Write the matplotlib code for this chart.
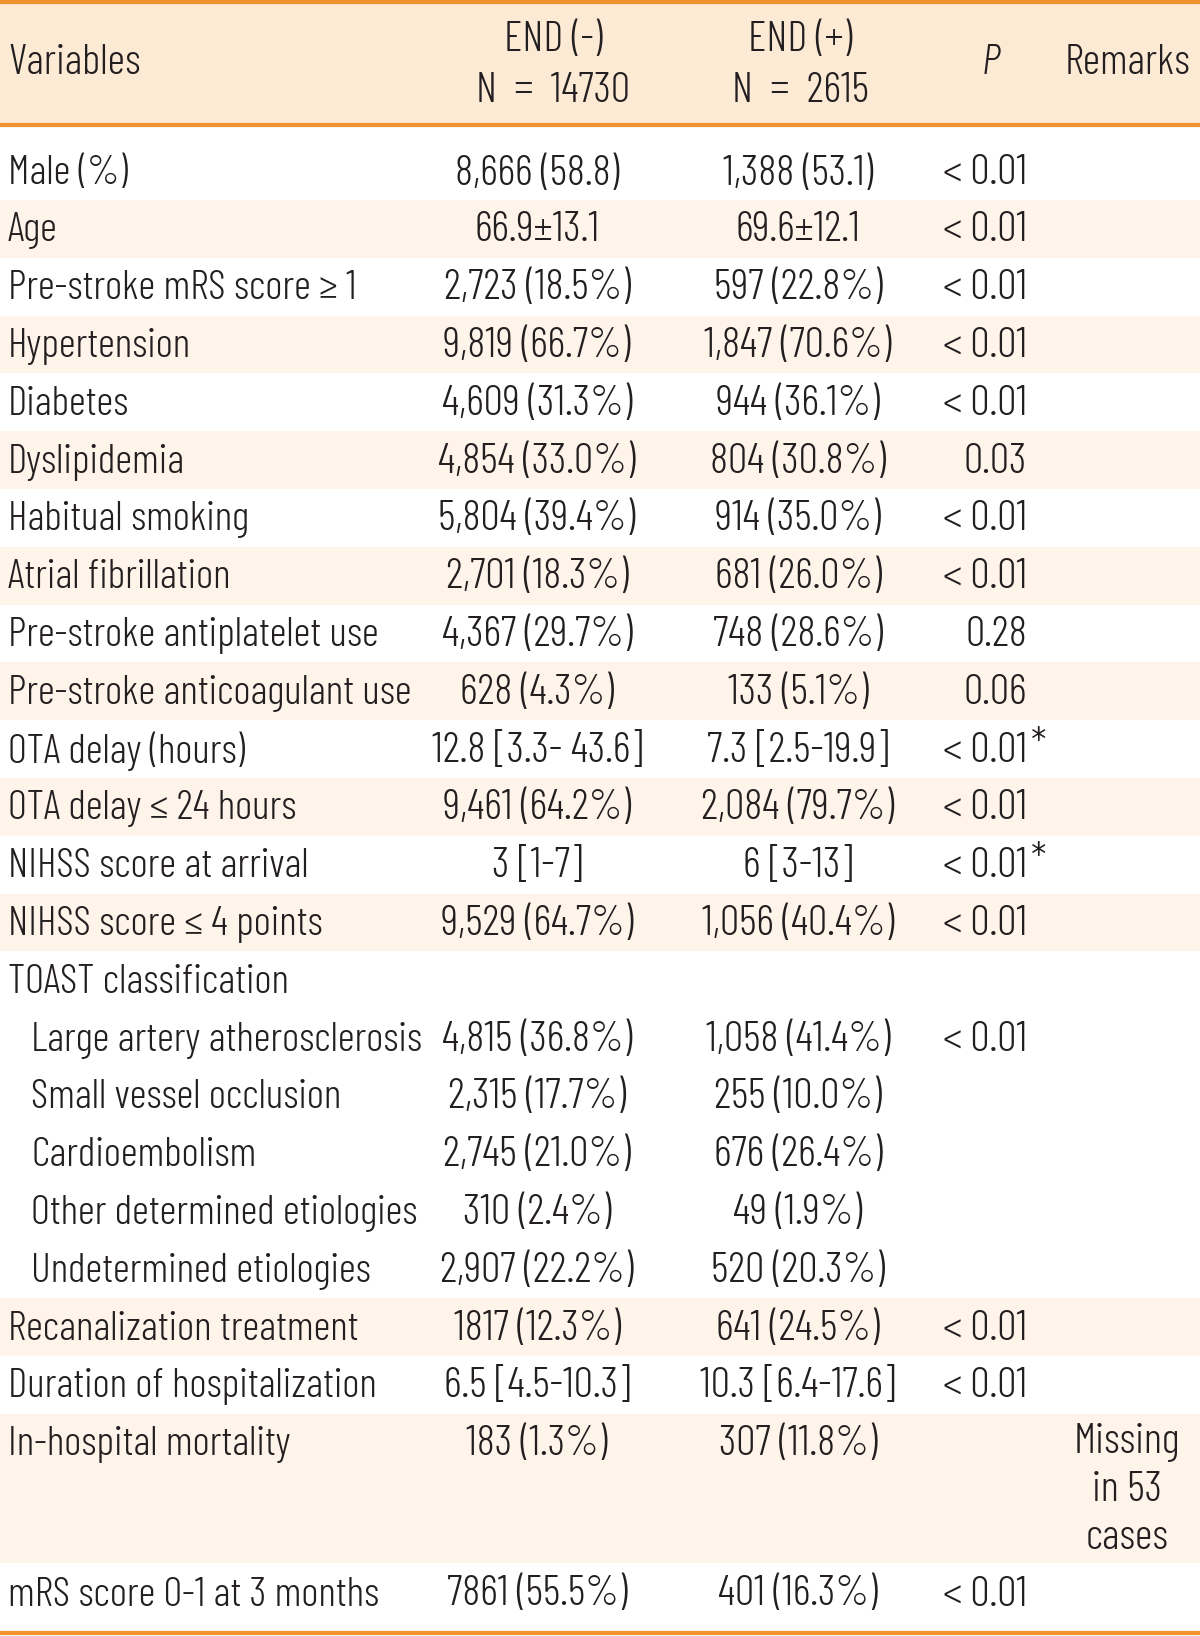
import matplotlib
matplotlib.use("Agg")
import matplotlib.pyplot as plt

plt.rcParams['font.family'] = ['Barlow Condensed', 'Roboto Condensed', 'DejaVu Sans']
plt.rcParams['font.weight'] = 300

# table content
variables = ["Male (%)", "Age", "Pre-stroke mRS score \u2265 1", "Hypertension", "Diabetes",
             "Dyslipidemia", "Habitual smoking", "Atrial fibrillation",
             "Pre-stroke antiplatelet use", "Pre-stroke anticoagulant use",
             "OTA delay (hours)", "OTA delay \u2264 24 hours", "NIHSS score at arrival",
             "NIHSS score \u2264 4 points", "TOAST classification",
             "Large artery atherosclerosis", "Small vessel occlusion", "Cardioembolism",
             "Other determined etiologies", "Undetermined etiologies",
             "Recanalization treatment", "Duration of hospitalization",
             "In-hospital mortality", "mRS score 0-1 at 3 months"]
indent = [0]*15 + [1]*5 + [0]*4
end_neg = ["8,666 (58.8)", "66.9\u00b113.1", "2,723 (18.5%)", "9,819 (66.7%)", "4,609 (31.3%)",
           "4,854 (33.0%)", "5,804 (39.4%)", "2,701 (18.3%)", "4,367 (29.7%)", "628 (4.3%)",
           "12.8 [3.3- 43.6]", "9,461 (64.2%)", "3 [1-7]", "9,529 (64.7%)", "",
           "4,815 (36.8%)", "2,315 (17.7%)", "2,745 (21.0%)", "310 (2.4%)", "2,907 (22.2%)",
           "1817 (12.3%)", "6.5 [4.5-10.3]", "183 (1.3%)", "7861 (55.5%)"]
end_pos = ["1,388 (53.1)", "69.6\u00b112.1", "597 (22.8%)", "1,847 (70.6%)", "944 (36.1%)",
           "804 (30.8%)", "914 (35.0%)", "681 (26.0%)", "748 (28.6%)", "133 (5.1%)",
           "7.3 [2.5-19.9]", "2,084 (79.7%)", "6 [3-13]", "1,056 (40.4%)", "",
           "1,058 (41.4%)", "255 (10.0%)", "676 (26.4%)", "49 (1.9%)", "520 (20.3%)",
           "641 (24.5%)", "10.3 [6.4-17.6]", "307 (11.8%)", "401 (16.3%)"]
pvals = ["<0.01", "<0.01", "<0.01", "<0.01", "<0.01", "0.03", "<0.01", "<0.01", "0.28", "0.06",
         "<0.01*", "<0.01", "<0.01*", "<0.01", "", "<0.01", "", "", "", "",
         "<0.01", "<0.01", "", "<0.01"]
remarks = [""]*22 + ["Missing\nin 53\ncases", ""]
shaded = [0, 1, 0, 1, 0, 1, 0, 1, 0, 1, 0, 1, 0, 1, 0, 0, 0, 0, 0, 0, 1, 0, 1, 0]

W, H = 1200, 1636
fig = plt.figure(figsize=(W/100, H/100), dpi=100)
ax = fig.add_axes([0, 0, 1, 1])
ax.set_xlim(0, W)
ax.set_ylim(H, 0)
ax.axis('off')

orange = '#F0932E'
head_bg = '#FDEAD5'
row_bg = '#FEF4EA'
txt = '#231F20'
fs = 31
fs_lab = 30

# header
ax.axhspan(2, 125, color=head_bg, lw=0)
ax.axhline(2, color=orange, lw=3)
ax.axhline(125, color=orange, lw=3)
ax.text(8, 64, "Variables", fontsize=fs, color=txt, va='center', ha='left')
ax.text(553, 40, "END (-)", fontsize=fs, color=txt, va='center', ha='center')
ax.text(553, 91, "N  =  14730", fontsize=fs, color=txt, va='center', ha='center')
ax.text(800, 40, "END (+)", fontsize=fs, color=txt, va='center', ha='center')
ax.text(800, 91, "N  =  2615", fontsize=fs, color=txt, va='center', ha='center')
ax.text(991, 64, "P", fontsize=fs, color=txt, va='center', ha='center', style='italic')
ax.text(1127, 64, "Remarks", fontsize=fs, color=txt, va='center', ha='center')

# row geometry
step = 57.8
tops, bottoms, centers = [], [], []
for i in range(len(variables)):
    if i == 0:
        t, b, c = 125, 200, 174
    elif i < 22:
        t = 200 + step*(i-1)
        b = t + step
        c = t + step/2 + 2
    elif i == 22:
        t = 200 + step*21
        b = 1563
        c = t + step/2 + 2
    else:
        t, b, c = 1563, 1633, 1595
    tops.append(t); bottoms.append(b); centers.append(c)

for i, v in enumerate(variables):
    if shaded[i]:
        ax.axhspan(tops[i], bottoms[i], color=row_bg, lw=0)
    ax.text(8 + 23*indent[i], centers[i], v, fontsize=fs_lab, color=txt, va='center', ha='left')
    ax.text(537, centers[i], end_neg[i], fontsize=fs, color=txt, va='center', ha='center')
    ax.text(798, centers[i], end_pos[i], fontsize=fs, color=txt, va='center', ha='center')
    p = pvals[i].replace('<', '<\u2009')
    if p.endswith('*'):
        ax.text(1027, centers[i], p[:-1], fontsize=fs, color=txt, va='center', ha='right')
        ax.text(1031, centers[i] - 4, '*', fontsize=fs, color=txt, va='center', ha='left')
    elif p:
        ax.text(1027, centers[i], p, fontsize=fs, color=txt, va='center', ha='right')
    if remarks[i]:
        ax.text(1127, centers[i] + 46, remarks[i], fontsize=fs, color=txt, va='center',
                ha='center', linespacing=1.3)

ax.axhline(1633, color=orange, lw=3)

fig.savefig("out.png", dpi=100)
